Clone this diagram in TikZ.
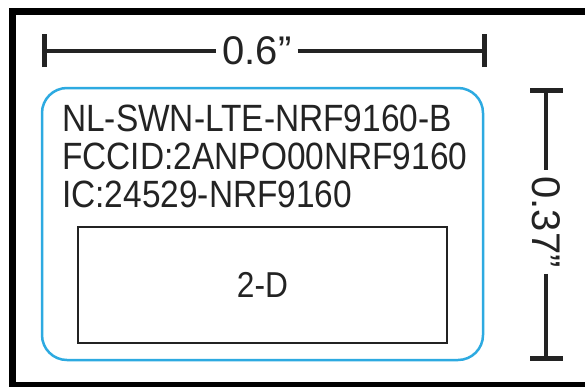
\documentclass[tikz,border=0pt]{standalone}
\usepackage{fontspec}
\setmainfont{Liberation Sans}[FakeStretch=0.88]
\newfontfamily\dimfont{Liberation Sans}
\definecolor{lblue}{RGB}{45,170,225}
\definecolor{ink}{RGB}{35,35,35}
\begin{document}
\begin{tikzpicture}[x=1pt,y=-1pt,
  dimline/.style={line width=4pt,draw=ink},
  labeltext/.style={font=\fontsize{38}{40}\selectfont,text=ink,inner sep=0pt},
  dimtext/.style={font=\dimfont\fontsize{40}{42}\selectfont,text=ink,inner sep=6pt}]
\useasboundingbox (0,0) rectangle (585,386);
\fill[white] (0,0) rectangle (585,386);
% outer frame
\draw[line width=7pt,black] (12,11.5) rectangle (600,385.5);
% label outline
\draw[lblue,line width=2.5pt,rounded corners=25pt] (42,88) rectangle (483,360);
% inner 2-D box
\node[draw=ink,line width=2.5pt,minimum width=369pt,minimum height=116pt,inner sep=0pt,
  font=\fontsize{36}{38}\selectfont,text=ink] (box) at (262.5,285) {2-D};
% texts
\node[labeltext,anchor=base west] (t1) at (62,131) {NL-SWN-LTE-NRF9160-B};
\node[labeltext,anchor=base west] (t2) at (62,169) {FCCID:2ANPO00NRF9160};
\node[labeltext,anchor=base west] (t3) at (62,207) {IC:24529-NRF9160};
% top dimension
\coordinate (hl) at (44,51);
\coordinate (hr) at (484,51);
\node[dimtext] (w) at (257,51) {0.6”};
\draw[dimline] (hl) -- (w.west);
\draw[dimline] (w.east) -- (hr);
\draw[line width=5pt,draw=ink] ([yshift=-16pt]hl) -- ([yshift=17pt]hl);
\draw[line width=5pt,draw=ink] ([yshift=-16pt]hr) -- ([yshift=17pt]hr);
% right dimension
\coordinate (vt) at (546,90);
\coordinate (vb) at (546,358);
\node[dimtext,rotate=-90] (h) at (546,222) {0.37”};
\draw[dimline] (vt) -- (h.west);
\draw[dimline] (h.east) -- (vb);
\draw[line width=5pt,draw=ink] ([xshift=-16pt]vt) -- ([xshift=17pt]vt);
\draw[line width=5pt,draw=ink] ([xshift=-16pt]vb) -- ([xshift=17pt]vb);
\end{tikzpicture}
\end{document}
